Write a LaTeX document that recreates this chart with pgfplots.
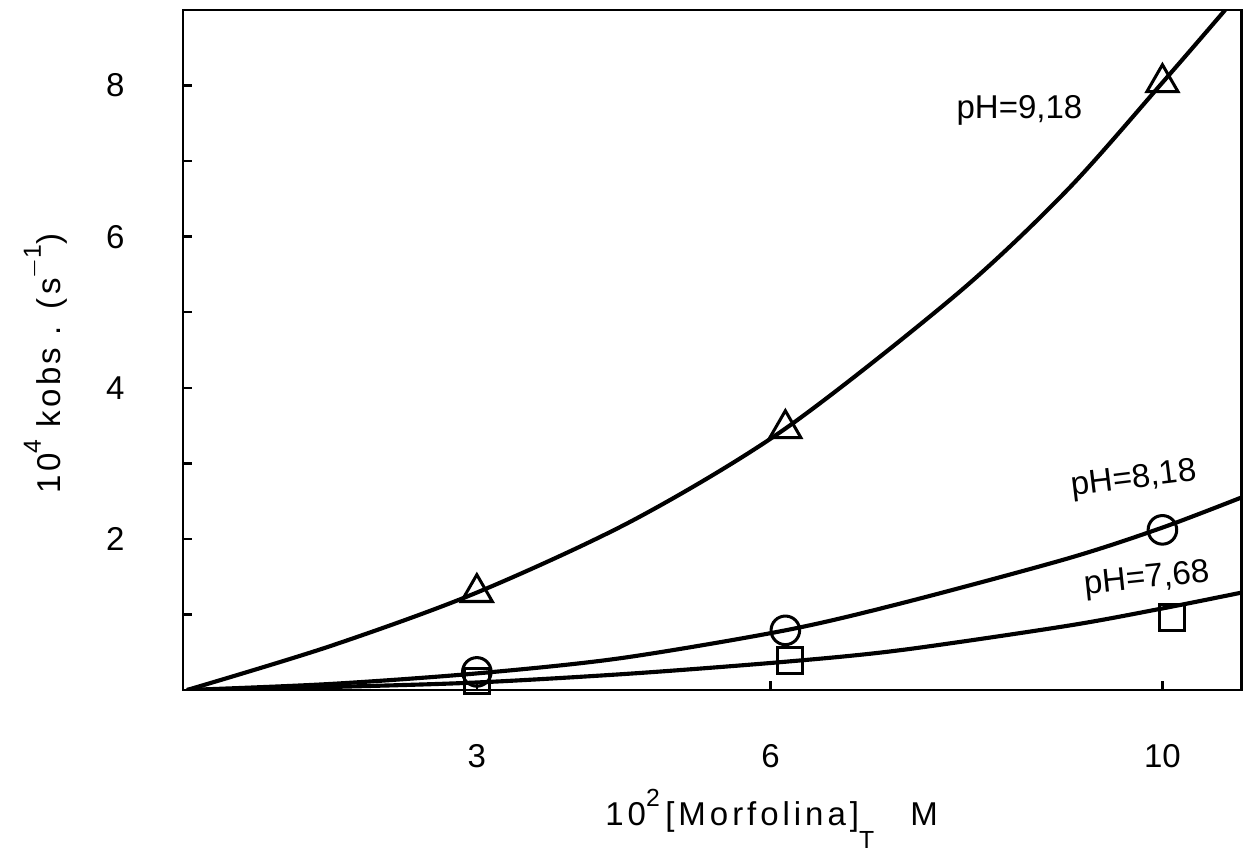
\documentclass[border=0pt]{standalone}
\usepackage{fontspec}
\setmainfont{Liberation Sans}
\usepackage{pgfplots}
\pgfplotsset{compat=1.18}

\begin{document}
\begin{tikzpicture}
\fontsize{12}{14}\selectfont
\begin{axis}[
  scale only axis, width=13.53cm, height=8.69cm,
  xmin=0, xmax=10.81, ymin=0, ymax=9,
  xtick={3,6,10}, ytick={1,2,3,4,5,6,7,8},
  yticklabels={,2,,4,,6,,8},
  tick align=inside, xtick pos=bottom, ytick pos=left,
  major tick length=0.11cm,
  axis line style={line width=1pt},
  tick style={line width=0.9pt, black},
  /pgf/number format/assume math mode=true,
  xticklabel style={yshift=-0.55cm},
  yticklabel style={xshift=-0.6cm},
  xlabel={\addfontfeatures{LetterSpace=12}10\raisebox{1.1ex}{\small 2}\,[Morfolina]\raisebox{-1.3ex}{\small T}\hspace{1.1em}M},
  xlabel style={at={(axis description cs:0.556,0)}, anchor=north, yshift=-1.12cm},
  ylabel={\addfontfeatures{LetterSpace=10}10\raisebox{1.1ex}{\small 4} kobs . (s\raisebox{1.1ex}{\small $-$1})},
  ylabel style={at={(axis description cs:-0.13,0.48)}, anchor=center},
]
\coordinate (O) at (rel axis cs:0,0);
% curves
\addplot[line width=1.5pt, smooth] coordinates {
  (0.04,0) (1.5,0.58) (3,1.29) (4.6,2.25) (6.15,3.46) (7.91,5.25) (9.03,6.62) (10,8.04) (10.64,9.0)};
\addplot[line width=1.5pt, smooth] coordinates {
  (0.04,0) (1.5,0.08) (3,0.22) (4.46,0.42) (6.15,0.79) (7.34,1.15) (9.03,1.74) (10,2.15) (10.81,2.55)};
\addplot[line width=1.5pt, smooth] coordinates {
  (0.04,0) (1.5,0.04) (3,0.1) (4.6,0.22) (6.2,0.38) (7.34,0.53) (9.03,0.85) (10,1.08) (10.81,1.29)};
% markers
\addplot[only marks, mark=square, mark size=4.6pt, mark options={fill=white, line width=1.1pt}]
  coordinates {(3,0.12) (6.2,0.39) (10.1,0.96)};
\addplot[only marks, mark=o, mark size=5.2pt, mark options={fill=white, line width=1.1pt}]
  coordinates {(3,0.24) (6.15,0.79) (10,2.12)};
\addplot[only marks, mark=triangle, mark size=6.5pt, mark options={fill=white, line width=1.1pt}]
  coordinates {(3,1.29) (6.15,3.46) (10,8.04)};
% labels
\node at (axis cs:8.54,7.67) {pH=9,18};
\node[rotate=7] at (axis cs:9.71,2.78) {pH=8,18};
\node[rotate=6] at (axis cs:9.84,1.46) {pH=7,68};
\end{axis}
\path (O) ++(-2.339cm,-1.879cm) rectangle ++(16.0cm,10.697cm);
\end{tikzpicture}
\end{document}
